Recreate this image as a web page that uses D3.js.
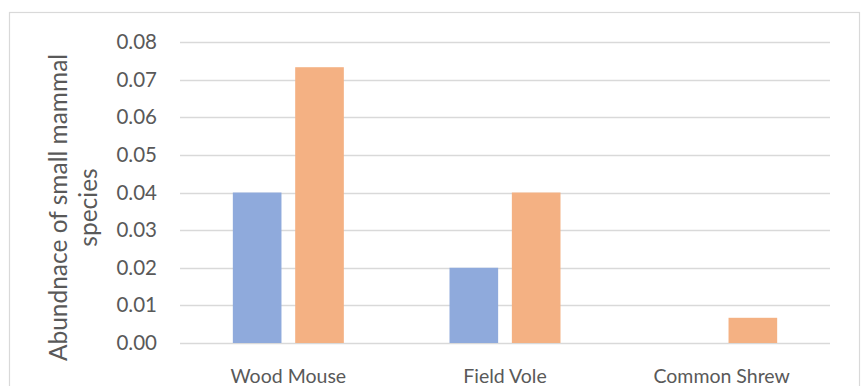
<!DOCTYPE html>
<html>
<head>
<meta charset="utf-8">
<script src="https://cdn.jsdelivr.net/npm/d3@7"></script>
<style>
  html, body { margin: 0; padding: 0; background: #fff; }
  svg { display: block; font-family: Lato, "Open Sans", sans-serif; }
</style>
</head>
<body>
<svg id="chart" width="862" height="386"></svg>
<script>
// Species abundance, two series per species
const categories = ["Wood Mouse", "Field Vole", "Common Shrew"];
const seriesA = [0.04, 0.02, 0];
const seriesB = [0.0733, 0.04, 0.0067];
const yTicks = [0, 0.01, 0.02, 0.03, 0.04, 0.05, 0.06, 0.07, 0.08];
const yTitle = ["Abundnace of small mammal", "species"];

const colors = ["#8faadc", "#f4b183"];
const textColor = "#595959";
const svg = d3.select("#chart");

// outer chart frame
svg.append("rect")
  .attr("x", 9.5).attr("y", 12.5)
  .attr("width", 850).attr("height", 400)
  .attr("fill", "#fff").attr("stroke", "#d9d9d9").attr("stroke-width", 1.2);

const plot = { left: 180, right: 830, top: 42, bottom: 343 };

const y = d3.scaleLinear().domain([0, 0.08]).range([plot.bottom, plot.top]);
const x = d3.scaleBand().domain(categories).range([plot.left, plot.right]);
const groupWidth = 111;
const inner = d3.scaleBand().domain([0, 1]).range([0, groupWidth]).paddingInner(0.22);

// gridlines
svg.append("g").selectAll("line").data(yTicks).join("line")
  .attr("x1", plot.left).attr("x2", plot.right)
  .attr("y1", d => Math.round(y(d)) + 0.5).attr("y2", d => Math.round(y(d)) + 0.5)
  .attr("stroke", "#d9d9d9").attr("stroke-width", 1.5);

// y tick labels
const yAxis = d3.axisLeft(y).tickValues(yTicks).tickFormat(d3.format(".2f")).tickSize(0).tickPadding(0);
const ya = svg.append("g").attr("transform", "translate(157,0)").call(yAxis);
ya.select(".domain").remove();
ya.selectAll("text").attr("fill", textColor).attr("font-size", 20.5)
  .attr("font-family", "Lato, 'Open Sans', sans-serif");

// bars
const data = categories.map((c, i) => ({ c, v: [seriesA[i], seriesB[i]] }));
const groups = svg.append("g").selectAll("g").data(data).join("g")
  .attr("transform", d => `translate(${x(d.c) + x.bandwidth() / 2 - groupWidth / 2},0)`);
groups.selectAll("rect").data(d => d.v.map((v, k) => ({ v, k }))).join("rect")
  .attr("x", d => inner(d.k))
  .attr("width", inner.bandwidth())
  .attr("y", d => y(d.v))
  .attr("height", d => y(0) - y(d.v))
  .attr("fill", d => colors[d.k]);

// x labels
svg.append("g").selectAll("text").data(categories).join("text")
  .attr("x", d => x(d) + x.bandwidth() / 2)
  .attr("y", 383)
  .attr("text-anchor", "middle")
  .attr("fill", textColor).attr("font-size", 19.5)
  .text(d => d);

// axis title
const t = svg.append("text")
  .attr("transform", "translate(0,207.5) rotate(-90)")
  .attr("text-anchor", "middle")
  .attr("fill", textColor).attr("font-size", 24.5);
t.append("tspan").attr("x", 0).attr("y", 67).text(yTitle[0]);
t.append("tspan").attr("x", 0).attr("y", 97).text(yTitle[1]);
</script>
</body>
</html>
